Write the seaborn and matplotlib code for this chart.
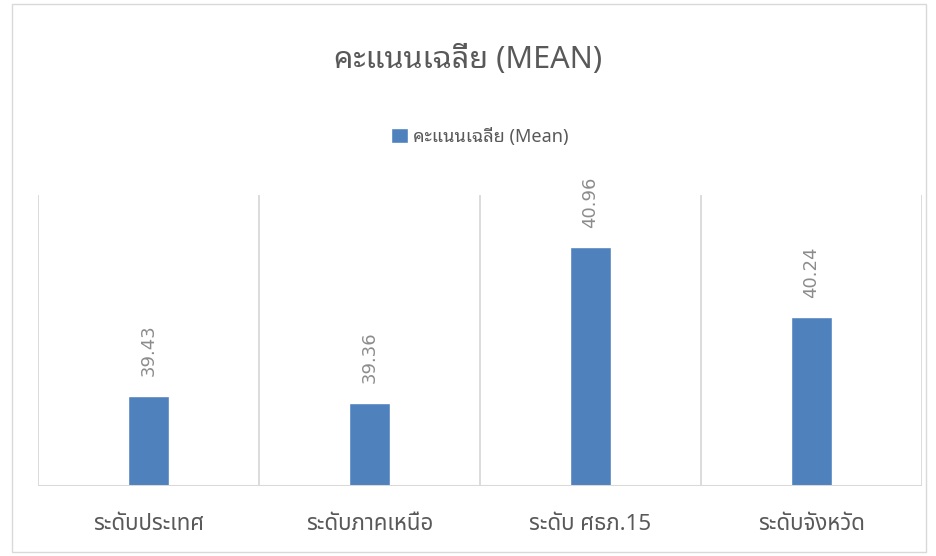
import matplotlib
matplotlib.use("Agg")
import matplotlib.pyplot as plt
import seaborn as sns
import pandas as pd
from matplotlib import font_manager
from matplotlib.patches import Rectangle

# Data
categories = ["ระดับประเทศ", "ระดับภาคเหนือ", "ระดับ ศธภ.15", "ระดับจังหวัด"]
mean_scores = [39.43, 39.36, 40.96, 40.24]
series_name = "คะแนนเฉลี่ย (Mean)"
title_text = "คะแนนเฉลี่ย (MEAN)"

names = {f.name for f in font_manager.fontManager.ttflist}

def pick(cands):
    for c in cands:
        if c in names:
            return c
    return "DejaVu Sans"

looped = pick(["Noto Sans Thai Looped", "Niramit", "Sarabun", "Noto Sans Thai"])
loopless = pick(["Noto Sans Thai", "Kanit", "Prompt", "Sarabun", "Niramit"])

sns.set_theme(style="white")
plt.rcParams["font.family"] = [looped, "DejaVu Sans"]

df = pd.DataFrame({"category": categories, "score": mean_scores})

fig = plt.figure(figsize=(9.36, 5.56), dpi=100)
ax = fig.add_axes([38 / 936, 1 - 486 / 556, (922 - 38) / 936, (486 - 195) / 556])

sns.barplot(data=df, x="category", y="score", color="#4f81bd", width=0.186,
            ax=ax, label=series_name, saturation=1)
ax.set_ylim(38.5, 41.5)
ax.set_xlim(-0.5, 3.5)

# vertical gridlines at category boundaries
for b in [-0.5, 0.5, 1.5, 2.5, 3.5]:
    ax.axvline(b, color="#d9d9d9", lw=1.3, zorder=0)
for s in ax.spines.values():
    s.set_visible(False)
ax.axhline(38.5, color="#d9d9d9", lw=1.5, zorder=3)

ax.set_yticks([])
ax.set_xlabel("")
ax.set_ylabel("")
ax.tick_params(axis="x", length=0, pad=20, colors="#595959")
for lbl in ax.get_xticklabels():
    lbl.set_fontfamily([loopless, "DejaVu Sans"])
    lbl.set_fontsize(16)

for i, v in enumerate(mean_scores):
    ax.annotate(f"{v:.2f}", (i, v), xytext=(0, 14), textcoords="offset points",
                rotation=90, ha="center", va="bottom", fontsize=13,
                color="#8c8c8c", family=["DejaVu Sans"])

fig.text(0.5, 1 - 60 / 556, title_text, ha="center", va="center",
         fontsize=22, color="#595959")

ax.legend(loc="center", bbox_to_anchor=(0.5, (486 - 137) / (486 - 195)),
          frameon=False, fontsize=13, labelcolor="#595959",
          handlelength=0.9, handleheight=0.9, handletextpad=0.3)

fig.patches.append(Rectangle((12 / 936, 4 / 556), (926 - 12) / 936, (552 - 4) / 556,
                             transform=fig.transFigure, fill=False,
                             edgecolor="#d9d9d9", lw=1))

fig.savefig("out.png", dpi=100)
